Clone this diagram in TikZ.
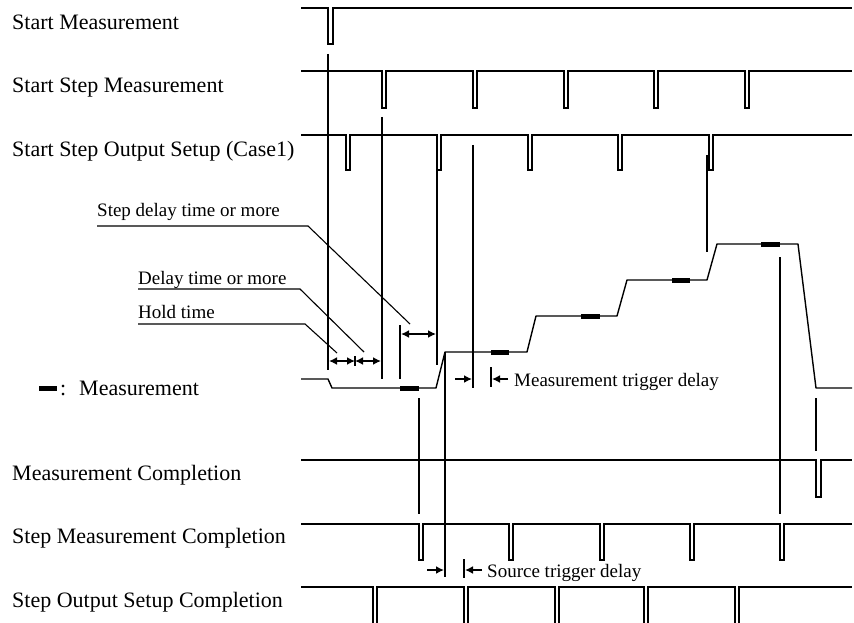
\documentclass[tikz,border=0pt]{standalone}
\usepackage{fontspec}
\setmainfont{Liberation Serif}
\usetikzlibrary{arrows.meta}
\begin{document}
\begin{tikzpicture}[x=1pt,y=-1pt,
  sig/.style={line width=1.4pt, line join=miter},
  marker/.style={line width=2.3pt},
  tick/.style={line width=2pt},
  lead/.style={line width=1.1pt},
  dimarrow/.style={line width=1.6pt, -{Latex[length=8pt,width=8pt]}},
  dimboth/.style={line width=1.6pt, {Latex[length=8pt,width=8pt]}-{Latex[length=8pt,width=8pt]}},
  big/.style={anchor=base west, inner sep=0pt, font=\fontsize{22}{26}\selectfont},
  small/.style={anchor=base west, inner sep=0pt, font=\fontsize{19}{22}\selectfont},
  blk/.style={fill=black, draw=none}]
\useasboundingbox (0,0) rectangle (854,623);

% ---------- labels ----------
\node[big] (t1) at (12,30) {Start Measurement};
\node[big] (t2) at (12,93) {Start Step Measurement};
\node[big] (t3) at (12,157) {Start Step Output Setup (Case1)};
\node[big] (tcol) at (60,395) {:};
\node[big] (t4) at (79,395) {Measurement};
\node[big] (t5) at (12,480) {Measurement Completion};
\node[big] (t6) at (12,543) {Step Measurement Completion};
\node[big] (t7) at (12,607) {Step Output Setup Completion};
\fill[blk] (39,385.5) rectangle (57,391);

\node[small] (s1) at (97,216) {Step delay time or more};
\node[small] (s2) at (138,284) {Delay time or more};
\node[small] (s3) at (138,318) {Hold time};
\node[small] (s4) at (514,386) {Measurement trigger delay};
\node[small] (s5) at (487,577) {Source trigger delay};

% ---------- leader lines ----------
\draw[lead] (97,226) -- (308,226) -- (410,324);
\draw[lead] (138,289) -- (300,289) -- (364,352);
\draw[lead] (138,324) -- (305,324) -- (337,353);

% ---------- digital signals ----------
\draw[sig] (301,8) -- (328,8) -- (328,44) -- (333,44) -- (333,8) -- (852,8);
\draw[sig] (301,71) foreach \x in {382,473,564,654,745} { -- (\x,71) -- (\x,108) -- ({\x+4},108) -- ({\x+4},71) } -- (852,71);
\draw[sig] (301,135) foreach \x in {346,437,528,618,709} { -- (\x,135) -- (\x,170) -- ({\x+4},170) -- ({\x+4},135) } -- (852,135);
\draw[sig] (301,460) -- (816,460) -- (816,497) -- (821,497) -- (821,460) -- (852,460);
\draw[sig] (301,524) foreach \x in {419,509,600,690,780} { -- (\x,524) -- (\x,560) -- ({\x+4},560) -- ({\x+4},524) } -- (852,524);
\draw[sig] (301,587) foreach \x in {373,464,555,644,735} { -- (\x,587) -- (\x,625) -- ({\x+4},625) -- ({\x+4},587) } -- (852,587);

% ---------- analog output waveform ----------
\draw[sig, line join=round] (301,379) -- (328,379) -- (332,388) -- (436,388) -- (445,352) -- (527,352)
  -- (536,316) -- (617,316) -- (627,280) -- (707,280) -- (717,244) -- (798,244) -- (816,388) -- (852,388);
\fill[blk] (400,385.5) rectangle (419,390.5);
\fill[blk] (491,349.5) rectangle (509,354.5);
\fill[blk] (581,313.5) rectangle (600,318.5);
\fill[blk] (672,277.5) rectangle (690,282.5);
\fill[blk] (761,241.5) rectangle (780,246.5);

% ---------- timing markers ----------
\draw[marker] (328,54) -- (328,370);
\draw[marker] (382,117) -- (382,379);
\draw[marker] (437,155) -- (437,365);
\draw[marker] (473,145) -- (473,388);
\draw[marker] (707,155) -- (707,252);
\draw[marker] (780,257) -- (780,514);
\draw[marker] (816,398) -- (816,451);
\draw[marker] (419,398) -- (419,514);
\draw[marker] (445,352) -- (445,577);
\draw[marker] (400,325) -- (400,379);
\draw[tick] (355,356) -- (355,366);
\draw[tick] (491,367) -- (491,387);
\draw[tick] (464,559) -- (464,578);

% ---------- dimension arrows ----------
\draw[dimboth] (329,361) -- (355,361);
\draw[dimboth] (355,361) -- (381,361);
\draw[dimboth] (401,334) -- (436,334);
\draw[dimarrow] (455,379) -- (472,379);
\draw[dimarrow] (508,379) -- (492,379);
\draw[dimarrow] (427,570) -- (444,570);
\draw[dimarrow] (482,570) -- (465,570);
\end{tikzpicture}
\end{document}
